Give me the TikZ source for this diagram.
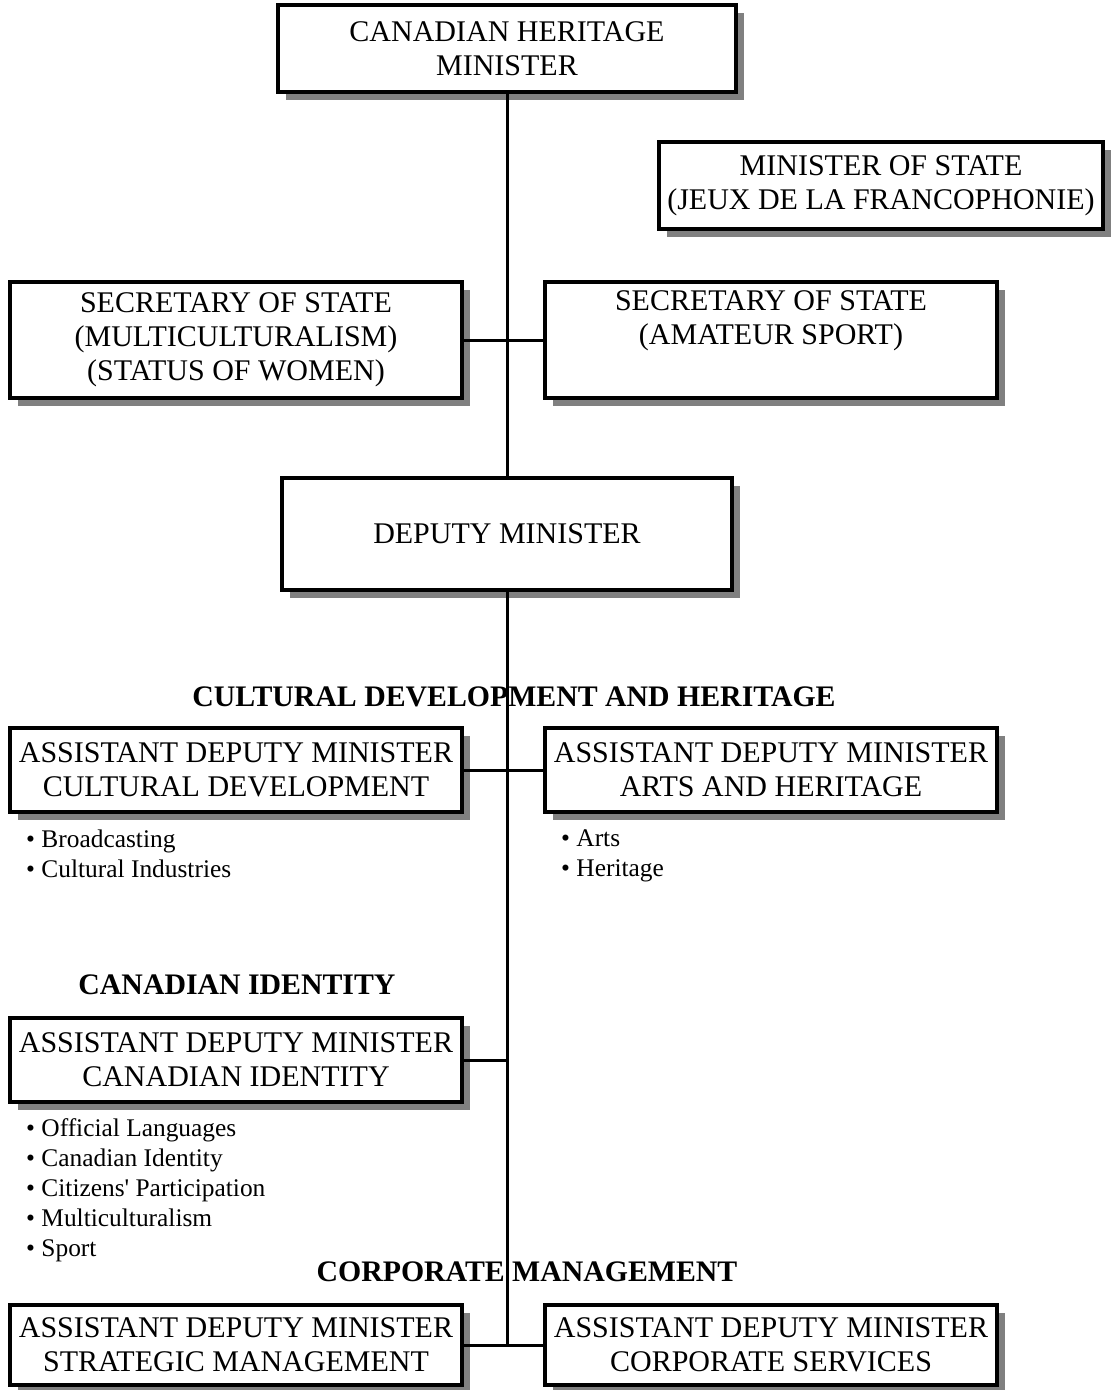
\documentclass[tikz,border=0pt]{standalone}
\usepackage{fontspec}
\setmainfont{Liberation Serif}
\usetikzlibrary{shadows}
\definecolor{shadowgray}{HTML}{808080}
\newcommand{\boxfont}{\fontsize{30}{34}\selectfont}
\newcommand{\headfont}{\fontsize{29.8}{32}\selectfont\bfseries}
\newcommand{\listfont}{\fontsize{25.4}{30}\selectfont}
\tikzset{
  orgbox/.style={draw, line width=3.5pt, fill=white, align=center, inner sep=0pt,
    minimum width=452pt, minimum height=84pt, font=\boxfont,
    drop shadow={shadow xshift=8pt, shadow yshift=-8pt, fill=shadowgray, opacity=1}},
  head/.style={font=\headfont, inner sep=0pt},
  items/.style={font=\listfont, align=left, inner sep=0pt, anchor=north west},
  link/.style={line width=3pt}
}
\begin{document}
\begin{tikzpicture}[x=1pt, y=-1pt]
                \useasboundingbox (0,0) rectangle (1111,1390);
                \node[orgbox, minimum width=458pt, minimum height=87pt] (minister) at (507,48.5) {CANADIAN HERITAGE\\MINISTER};
                \node[orgbox, minimum width=444pt, minimum height=87pt] (jeux) at (881,185.5) {MINISTER OF STATE\\(JEUX DE LA FRANCOPHONIE)};
                \node[orgbox, minimum height=116pt] (secmulti) at (236,340) {SECRETARY OF STATE\\(MULTICULTURALISM)\\(STATUS OF WOMEN)};
                \node[orgbox, minimum height=116pt] (secsport) at (771,340) {SECRETARY OF STATE\\(AMATEUR SPORT)\\\strut};
                \node[orgbox, minimum width=450pt, minimum height=112pt] (deputy) at (507,534) {DEPUTY MINISTER};
                \node[head] (culthead) at (514,697) {CULTURAL DEVELOPMENT AND HERITAGE};
                \node[orgbox] (admcult) at (236,770) {ASSISTANT DEPUTY MINISTER\\CULTURAL DEVELOPMENT};
                \node[orgbox] (admarts) at (771,770) {ASSISTANT DEPUTY MINISTER\\ARTS AND HERITAGE};
                \node[items] (cultlist) at (26,830) {• Broadcasting\\• Cultural Industries};
                \node[items] (artslist) at (561,830) {• Arts\\• Heritage};
                \node[head] (identhead) at (237,985) {CANADIAN IDENTITY};
                \node[orgbox] (admident) at (236,1060) {ASSISTANT DEPUTY MINISTER\\CANADIAN IDENTITY};
                \node[items] (identlist) at (26,1118) {• Official Languages\\• Canadian Identity\\• Citizens\textquotesingle\ Participation\\• Multiculturalism\\• Sport};
                \node[head] (corphead) at (527,1272) {CORPORATE MANAGEMENT};
                \node[orgbox, minimum height=80pt] (admstrat) at (236,1345) {ASSISTANT DEPUTY MINISTER\\STRATEGIC MANAGEMENT};
                \node[orgbox, minimum height=80pt] (admcorp) at (771,1345) {ASSISTANT DEPUTY MINISTER\\CORPORATE SERVICES};
                \coordinate (spineend) at (deputy.south |- admstrat.east);
                \draw[link] (minister.south) -- (deputy.north);
                \draw[link] (secmulti.east) -- (secsport.west);
                \draw[link] (deputy.south) -- (spineend);
                \draw[link] (admcult.east) -- (admarts.west);
                \draw[link] (admident.east) -- (admident.east -| spineend);
                \draw[link] (admstrat.east) -- (admcorp.west);
            \end{tikzpicture}
\end{document}
